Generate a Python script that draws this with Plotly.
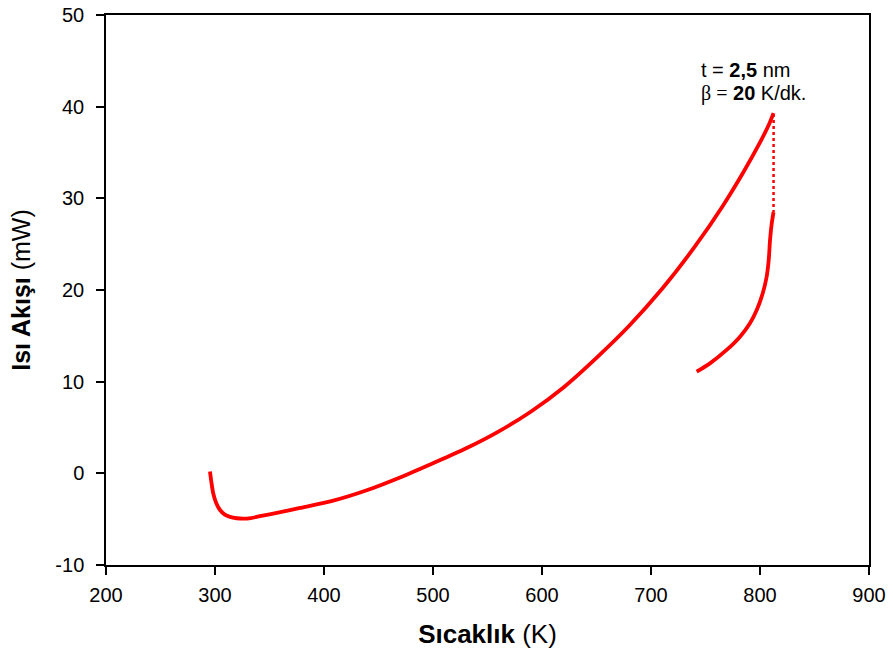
import plotly.graph_objects as go

# Heating branch: temperature (K) and heat flow (mW)
heat_T = [295.4, 296.5, 298.4, 301.0, 304.6, 309.0, 313.8, 320.0, 326.0, 333.0, 341.3, 360.0,
          378.0, 408.5, 439.2, 469.7, 500.0, 530.0, 560.0, 590.0, 620.0, 650.0, 680.0,
          710.0, 740.0, 766.0, 785.0, 800.0, 808.0, 812.4]
heat_Q = [0.2, -0.8, -2.2, -3.2, -4.0, -4.5, -4.75, -4.9, -4.95, -4.88, -4.68, -4.24,
          -3.78, -2.98, -1.85, -0.45, 1.1, 2.7, 4.55, 6.75, 9.4, 12.6, 16.1,
          20.1, 24.7, 29.2, 32.9, 36.1, 38.0, 39.3]

# Sparse (dotted) jump at the peak
jump_T = [812.5, 812.4]
jump_Q = [39.2, 28.5]

# Cooling branch
cool_T = [812.4, 810.7, 809.2, 808.0, 806.1, 802.5, 797.0, 790.8, 781.7, 769.4, 754.1, 741.9]
cool_Q = [28.5, 27.2, 25.45, 23.27, 21.45, 19.64, 17.82, 16.37, 14.91, 13.46, 12.0, 11.09]

x_ticks = [200, 300, 400, 500, 600, 700, 800, 900]
y_ticks = [-10, 0, 10, 20, 30, 40, 50]

RED = "#FF0000"
FONT = "Arial, 'Liberation Sans', sans-serif"

fig = go.Figure()
fig.add_trace(go.Scatter(x=heat_T, y=heat_Q, mode="lines",
                         line=dict(color=RED, width=3.8, shape="spline", smoothing=0.8),
                         showlegend=False, hoverinfo="skip"))
fig.add_trace(go.Scatter(x=jump_T, y=jump_Q, mode="lines",
                         line=dict(color=RED, width=2.5, dash="dot"),
                         showlegend=False, hoverinfo="skip"))
fig.add_trace(go.Scatter(x=cool_T, y=cool_Q, mode="lines",
                         line=dict(color=RED, width=3.8, shape="spline", smoothing=0.8),
                         showlegend=False, hoverinfo="skip"))

fig.add_annotation(x=744, y=44.0, xref="x", yref="y", xanchor="left", yanchor="middle",
                   text="t = <b>2,5</b> nm", showarrow=False,
                   font=dict(family=FONT, size=20, color="black"))
fig.add_annotation(x=744, y=41.4, xref="x", yref="y", xanchor="left", yanchor="middle",
                   text="<span style=\"font-family:'Liberation Serif', serif\">β =</span> <b>20</b> K/dk.",
                   showarrow=False,
                   font=dict(family=FONT, size=20, color="black"))

axis_common = dict(showline=True, linecolor="black", linewidth=1.5, mirror=True,
                   ticks="outside", ticklen=8, tickwidth=1.5, tickcolor="black",
                   showgrid=False, zeroline=False,
                   tickfont=dict(family=FONT, size=20, color="black"))

fig.update_xaxes(range=[200, 900], tickvals=x_ticks, ticktext=[str(v) for v in x_ticks],
                 title=dict(text="<b>Sıcaklık</b> (K)", font=dict(family=FONT, size=26, color="black"),
                            standoff=20),
                 ticklabelstandoff=3, **axis_common)
fig.update_yaxes(range=[-10, 50], tickvals=y_ticks, ticktext=[str(v) for v in y_ticks],
                 title=dict(text="<b>Isı Akışı</b> (mW)", font=dict(family=FONT, size=25, color="black"),
                            standoff=18),
                 ticklabelstandoff=8, **axis_common)

fig.update_layout(width=893, height=661, margin=dict(l=106, r=24, t=15, b=96, autoexpand=False),
                  plot_bgcolor="white", paper_bgcolor="white",
                  font=dict(family=FONT, color="black"))

fig.write_html("out.html")
